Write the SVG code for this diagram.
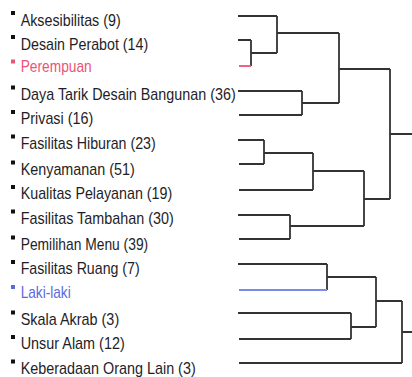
<svg xmlns="http://www.w3.org/2000/svg" width="412" height="377" viewBox="0 0 412 377">
<style>
.lbl{font-family:"Liberation Sans",Arial,sans-serif;font-size:17px;fill:#1e1e28}
.blt{fill:#111}
.conn{fill:none;stroke:#333;stroke-width:1.8}
.red{fill:#ea5577}
.blue{fill:#5a6ae0}
</style>
<rect width="412" height="377" fill="#fff"/>
<g id="connectors">
<path class="conn" d="M238 16H277M238 40H251M251 40V66M251 53H277M277 16V53M277 33H339M238 91H302M239 115H302M302 91V115M302 103H339M339 33V103M339 69H390M390 69V199M390 134H412M238 140H264M239 164H264M264 140V164M264 153H313M239 190H313M313 153V190M313 171H364M238 215H290M239 239H290M290 215V239M290 226H364M364 171V226M364 199H390M238 264H327M327 264V290M327 277H376M238 313H351M239 339H351M351 313V339M351 327H376M376 277V327M376 301H402M239 363H402M402 301V363M402 332H412"/>
<path d="M239 66H251" fill="none" stroke="#ea5577" stroke-width="1.8"/>
<path d="M239 290H327" fill="none" stroke="#7a8ce4" stroke-width="1.8"/>
</g>
<g id="n-aksesibilitas"><rect class="blt" x="11" y="11" width="4" height="4"/><text class="lbl" x="20.7" y="25.5" textLength="100" lengthAdjust="spacingAndGlyphs">Aksesibilitas (9)</text></g>
<g id="n-desain-perabot"><rect class="blt" x="11" y="35" width="4" height="4"/><text class="lbl" x="20.7" y="49.5" textLength="127.5" lengthAdjust="spacingAndGlyphs">Desain Perabot (14)</text></g>
<g id="n-perempuan"><rect class="red" x="11" y="59.5" width="4" height="4"/><text class="lbl" style="fill:#ea5577" x="20.7" y="72" textLength="71" lengthAdjust="spacingAndGlyphs">Perempuan</text></g>
<g id="n-daya-tarik"><rect class="blt" x="11" y="85.5" width="4" height="4"/><text class="lbl" x="20.7" y="100" textLength="215" lengthAdjust="spacingAndGlyphs">Daya Tarik Desain Bangunan (36)</text></g>
<g id="n-privasi"><rect class="blt" x="11" y="110" width="4" height="4"/><text class="lbl" x="20.7" y="124.3" textLength="72.5" lengthAdjust="spacingAndGlyphs">Privasi (16)</text></g>
<g id="n-fasilitas-hiburan"><rect class="blt" x="11" y="134.5" width="4" height="4"/><text class="lbl" x="20.7" y="149" textLength="135" lengthAdjust="spacingAndGlyphs">Fasilitas Hiburan (23)</text></g>
<g id="n-kenyamanan"><rect class="blt" x="11" y="160.5" width="4" height="4"/><text class="lbl" x="20.7" y="175" textLength="114" lengthAdjust="spacingAndGlyphs">Kenyamanan (51)</text></g>
<g id="n-kualitas-pelayanan"><rect class="blt" x="11" y="185" width="4" height="4"/><text class="lbl" x="20.7" y="199.3" textLength="151.5" lengthAdjust="spacingAndGlyphs">Kualitas Pelayanan (19)</text></g>
<g id="n-fasilitas-tambahan"><rect class="blt" x="11" y="209.5" width="4" height="4"/><text class="lbl" x="20.7" y="224" textLength="153" lengthAdjust="spacingAndGlyphs">Fasilitas Tambahan (30)</text></g>
<g id="n-pemilihan-menu"><rect class="blt" x="11" y="235.5" width="4" height="4"/><text class="lbl" x="20.7" y="250" textLength="127.5" lengthAdjust="spacingAndGlyphs">Pemilihan Menu (39)</text></g>
<g id="n-fasilitas-ruang"><rect class="blt" x="11" y="260" width="4" height="4"/><text class="lbl" x="20.7" y="274.3" textLength="119" lengthAdjust="spacingAndGlyphs">Fasilitas Ruang (7)</text></g>
<g id="n-laki-laki"><rect class="blue" x="11" y="285" width="4" height="4"/><text class="lbl" style="fill:#5a6ae0" x="20.7" y="298" textLength="50" lengthAdjust="spacingAndGlyphs">Laki-laki</text></g>
<g id="n-skala-akrab"><rect class="blt" x="11" y="310.5" width="4" height="4"/><text class="lbl" x="20.7" y="325" textLength="98.5" lengthAdjust="spacingAndGlyphs">Skala Akrab (3)</text></g>
<g id="n-unsur-alam"><rect class="blt" x="11" y="335" width="4" height="4"/><text class="lbl" x="20.7" y="349.3" textLength="104" lengthAdjust="spacingAndGlyphs">Unsur Alam (12)</text></g>
<g id="n-keberadaan"><rect class="blt" x="11" y="359.5" width="4" height="4"/><text class="lbl" x="20.7" y="374" textLength="175" lengthAdjust="spacingAndGlyphs">Keberadaan Orang Lain (3)</text></g>
</svg>
